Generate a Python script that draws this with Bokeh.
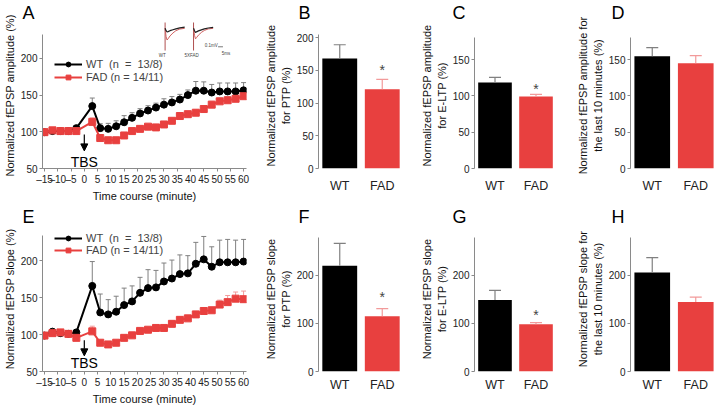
from bokeh.plotting import figure
from bokeh.models import (Range1d, FactorRange, Whisker, TeeHead, ColumnDataSource,
                          Legend, LegendItem, Label, Arrow, NormalHead, FixedTicker)
from bokeh.layouts import row, column
from bokeh.embed import file_html
from bokeh.resources import INLINE
from bokeh.core.properties import value

FONT = "Liberation Sans"
BLACK = "#000000"
RED = "#E8403F"
AXIS = "#8a8a8a"
WT_ERR = "#808080"
FAD_ERR = "#F29A9A"

# ---------------- data ----------------
time_min = [-15, -12, -9, -6, -3, 3, 6, 9, 12, 15, 18, 21, 24, 27, 30, 33, 36, 39, 42, 45, 48, 51, 54, 57, 60]

amp_wt = [99.5, 101, 101, 101, 105, 135, 105, 104, 107.5, 113, 119, 125, 129, 133, 137, 140, 144, 150, 156, 156, 153.5, 155, 155, 155, 156.5]
amp_wt_err = [2, 2, 2, 2, 3, 11, 6, 7.5, 7.5, 9, 7, 6.5, 6.5, 6, 8, 8, 7, 7, 12.5, 12, 11, 11.5, 11.5, 11.5, 10.5]
amp_fad = [99.5, 102, 101, 101, 101, 113.5, 91.5, 88.5, 88.5, 95, 101, 104, 107, 106, 110, 115, 121.5, 124, 126, 131, 137, 141.5, 143, 145, 148.5]
amp_fad_err = [2, 2, 2, 2, 2, 5.5, 3, 2.5, 2.5, 3, 3, 3, 3, 3, 3, 3.5, 4, 4, 4, 4, 4.5, 4.5, 4.5, 5, 5]

slope_wt = [98.7, 104, 102, 101, 103, 166, 130, 127.4, 131, 140, 145, 156.6, 163, 164, 172, 176, 182, 183, 196, 202, 192, 198, 198, 198, 199]
slope_wt_err = [3, 2, 3, 3, 3, 33, 25, 20, 21, 23, 21, 21, 25, 23, 25, 25, 26, 24, 29, 31, 27, 30, 31, 30, 30]
slope_fad = [98.7, 102, 103, 101, 95.6, 104.4, 89, 86.7, 89, 95.6, 99, 105, 106.6, 109, 109, 114.6, 120, 122, 127.4, 132, 133, 140.7, 144, 148.7, 148]
slope_fad_err = [3, 3, 3, 3, 3, 7, 3, 2.5, 2.5, 3, 3, 3, 3, 3, 3, 3.5, 4, 4, 4, 4, 4, 6, 9, 9, 11]

x_ticks = [-15, -10, -5, 0, 5, 10, 15, 20, 25, 30, 35, 40, 45, 50, 55, 60]
x_tick_labels = ["–15", "–10", "–5", "0", "5", "10", "15", "20", "25", "30", "35", "40", "45", "50", "55", "60"]

groups = ["WT", "FAD"]
ptp_amp = [168, 121]
ptp_amp_err = [21, 15]
eltp_amp = [118.5, 99]
eltp_amp_err = [7, 3]
last10_amp = [154.5, 145]
last10_amp_err = [12, 10.5]
ptp_slope = [220, 115]
ptp_slope_err = [47, 16]
eltp_slope = [149, 98.5]
eltp_slope_err = [20, 3.5]
last10_slope = [206, 145]
last10_slope_err = [31, 10]

legend_wt = "WT  (n  =  13/8)"
legend_fad = "FAD (n = 14/11)"

# representative traces (inset of panel A), ms / mV
inset_ms = [0, 1, 2, 3, 5, 8, 11, 15, 20]
inset_wt_pre = [0, -0.02, -0.03, -0.028, -0.02, -0.012, -0.004, 0.004, 0.01]
inset_wt_post = [0, -0.07, -0.1, -0.09, -0.065, -0.04, -0.02, -0.006, 0.0]
inset_fad_pre = [0, -0.02, -0.035, -0.03, -0.022, -0.013, -0.005, 0.003, 0.008]
inset_fad_post = [0, -0.06, -0.09, -0.08, -0.058, -0.035, -0.018, -0.005, 0.0]
inset_artifact_mv = [0.14, -0.19]
inset_fad_offset_ms = 29


def style(p, letter, letter_offset):
    p.title.text = letter
    p.title.text_font = FONT
    p.title.text_font_size = "18px"
    p.title.text_font_style = "normal"
    p.title.text_color = "#000000"
    p.title.align = "left"
    p.title.offset = letter_offset
    p.title.standoff = 0
    p.xgrid.grid_line_color = None
    p.ygrid.grid_line_color = None
    p.outline_line_color = None
    for ax in p.axis:
        ax.axis_line_color = AXIS
        ax.major_tick_line_color = AXIS
        ax.minor_tick_line_color = None
        ax.major_tick_out = 3
        ax.major_tick_in = 0
        ax.major_label_text_font = FONT
        ax.major_label_text_font_size = "10px"
        ax.major_label_text_color = "#222222"
        ax.axis_label_text_font = FONT
        ax.axis_label_text_font_size = "11px"
        ax.axis_label_text_font_style = "normal"
        ax.axis_label_text_color = "#111111"
        ax.major_label_standoff = 2
        ax.axis_label_standoff = 2


def time_course(letter, ylabel, wt, wt_err, fad, fad_err, height, top, bottom, yend, ybound,
                leg_y, leg_spacing, arrow_y, tbs_y, inset=False):
    p = figure(width=262, height=height, x_range=Range1d(-15.75, 61.1), y_range=Range1d(50, yend),
               output_backend="svg", toolbar_location=None,
               min_border_left=38, min_border_right=16, min_border_top=top, min_border_bottom=bottom)
    style(p, letter, -20)
    src_wt = ColumnDataSource(dict(t=time_min, y=wt, up=[a + b for a, b in zip(wt, wt_err)]))
    src_fad = ColumnDataSource(dict(t=time_min, y=fad, up=[a + b for a, b in zip(fad, fad_err)]))
    p.add_layout(Whisker(source=src_wt, base="t", lower="y", upper="up", line_color=WT_ERR,
                         line_width=1, lower_head=None,
                         upper_head=TeeHead(size=5, line_color=WT_ERR, line_width=1)))
    p.add_layout(Whisker(source=src_fad, base="t", lower="y", upper="up", line_color=FAD_ERR,
                         line_width=1, lower_head=None,
                         upper_head=TeeHead(size=5, line_color=FAD_ERR, line_width=1)))
    l1 = p.line("t", "y", source=src_wt, line_color=BLACK, line_width=2)
    m1 = p.scatter("t", "y", source=src_wt, marker="circle", size=7, color=BLACK)
    l2 = p.line("t", "y", source=src_fad, line_color=RED, line_width=2)
    m2 = p.scatter("t", "y", source=src_fad, marker="square", size=7, color=RED)

    p.xaxis.ticker = FixedTicker(ticks=x_ticks)
    p.xaxis.major_label_overrides = {t: s for t, s in zip(x_ticks, x_tick_labels)}
    p.xaxis.axis_label = "Time course (minute)"
    p.yaxis.ticker = FixedTicker(ticks=[50, 100, 150, 200])
    p.yaxis.bounds = (50, ybound)
    p.yaxis.axis_label = ylabel

    leg = Legend(items=[LegendItem(label=legend_wt, renderers=[l1, m1]),
                        LegendItem(label=legend_fad, renderers=[l2, m2])],
                 location=(12, leg_y), orientation="vertical",
                 label_text_font=FONT, label_text_font_size="11px",
                 glyph_width=28, glyph_height=12, label_height=12, label_standoff=4,
                 spacing=leg_spacing, padding=0, margin=0,
                 border_line_color=None, background_fill_alpha=0)
    p.add_layout(leg)

    p.add_layout(Arrow(end=NormalHead(size=7, fill_color=BLACK, line_color=BLACK),
                       x_start=0, y_start=arrow_y[0], x_end=0, y_end=arrow_y[1],
                       line_color=BLACK, line_width=1.2))
    p.add_layout(Label(x=0, y=tbs_y, text="TBS", text_font=FONT, text_font_size="14px",
                       text_align="center", text_baseline="middle", text_color="#000000"))

    if inset:
        # frame: page x 38..246 ; 1 ms = 1 px, 120 px per mV, baseline 6 px below frame top
        frame_h = height - top - bottom
        p.extra_x_ranges = {"ix": Range1d(-125, 83)}
        p.extra_y_ranges = {"iy": Range1d(6 / 120 - frame_h / 120, 6 / 120)}
        for off, pre, post in [(0, inset_wt_pre, inset_wt_post),
                               (inset_fad_offset_ms, inset_fad_pre, inset_fad_post)]:
            tt = [t + off for t in inset_ms]
            p.line([off, off], inset_artifact_mv, x_range_name="ix", y_range_name="iy",
                   line_color="#B05050", line_width=1)
            p.line(tt, post, x_range_name="ix", y_range_name="iy", line_color="#D06060", line_width=1)
            p.line(tt, pre, x_range_name="ix", y_range_name="iy", line_color="#202020", line_width=1.2)
        p.line([54, 59], [-0.158, -0.158], x_range_name="ix", y_range_name="iy",
               line_color="#555555", line_width=0.8)
        p.text(x=[47, 62, -3, 27], y=[-0.15, -0.217, -0.233, -0.233],
               text=["0.1mV", "5ms", "WT", "5XFAD"], x_range_name="ix", y_range_name="iy",
               text_font=value(FONT), text_font_size="4.5px", text_color="#444444",
               text_align="center", text_baseline="middle")
    return p


def bar_panel(letter, letter_offset, ylabel, vals, errs, width, height, left, right, top, bottom,
              yend, ybound, ticks, label_standoff, star_y=None):
    p = figure(width=width, height=height, x_range=FactorRange(factors=groups),
               y_range=Range1d(0, yend), output_backend="svg", toolbar_location=None,
               min_border_left=left, min_border_right=right, min_border_top=top,
               min_border_bottom=bottom)
    style(p, letter, letter_offset)
    p.vbar(x=groups, top=vals, width=0.82, color=[BLACK, RED], line_color=None)
    for g, v, e, c in zip(groups, vals, errs, [WT_ERR, FAD_ERR]):
        src = ColumnDataSource(dict(x=[g], lo=[v], up=[v + e]))
        p.add_layout(Whisker(source=src, base="x", lower="lo", upper="up", line_color=c,
                             line_width=1.2, lower_head=None, level="glyph",
                             upper_head=TeeHead(size=12, line_color=c, line_width=1.2)))
    if star_y is not None:
        p.text(x=["FAD"], y=[star_y], text=["*"], text_font=value(FONT), text_font_size="14px",
               text_color="#444444", text_align="center", text_baseline="middle")
    p.yaxis.ticker = FixedTicker(ticks=ticks)
    p.yaxis.bounds = (0, ybound)
    p.yaxis.axis_label = ylabel
    p.xaxis.axis_line_color = None
    p.xaxis.major_tick_line_color = None
    p.xaxis.major_tick_out = 0
    p.xaxis.major_label_text_font_size = "12.5px"
    p.xaxis.major_label_standoff = label_standoff
    return p


TOP_H = 204
BOT_H = 203

# top row: all frames span page y 22..172 ; bottom row: all frames span page y 226..374
pA = time_course("A", "Normalized fEPSP amplitude (%)", amp_wt, amp_wt_err, amp_fad, amp_fad_err,
                 TOP_H, 22, 32, 248.9, 233, 85.5, 1, (96.4, 74), 59.3, inset=True)
pB = bar_panel("B", -20, "Normalized fEPSP amplitude\nfor PTP (%)", ptp_amp, ptp_amp_err,
               156, TOP_H, 55, 15, 22, 32, 223, 205, [0, 50, 100, 150, 200], 10, star_y=150)
pC = bar_panel("C", -22, "Normalized fEPSP amplitude\nfor E-LTP (%)", eltp_amp, eltp_amp_err,
               156, TOP_H, 52, 18, 22, 32, 201, 180, [0, 50, 100, 150], 10, star_y=110)
pD = bar_panel("D", -19, "Normalized fEPSP amplitude for\nthe last 10 minutes (%)", last10_amp, last10_amp_err,
               144, TOP_H, 55, 1, 22, 32, 201, 180, [0, 50, 100, 150], 10)

pE = time_course("E", "Normalized fEPSP slope (%)", slope_wt, slope_wt_err, slope_fad, slope_fad_err,
                 BOT_H, 22, 33, 246.5, 234, 115.5, 0, (92.5, 71.2), 62)
pF = bar_panel("F", -20, "Normalized fEPSP slope\nfor PTP (%)", ptp_slope, ptp_slope_err,
               156, BOT_H, 55, 15, 22, 33, 302, 279, [0, 100, 200], 6, star_y=155)
pG = bar_panel("G", -22, "Normalized fEPSP slope\nfor E-LTP (%)", eltp_slope, eltp_slope_err,
               156, BOT_H, 52, 18, 22, 33, 302, 279, [0, 100, 200], 6, star_y=118.5)
pH = bar_panel("H", -19, "Normalized fEPSP slope for\nthe last 10 minutes (%)", last10_slope, last10_slope_err,
               144, BOT_H, 55, 1, 22, 33, 302, 279, [0, 100, 200], 6)

layout = column(row(pA, pB, pC, pD, spacing=0),
                row(pE, pF, pG, pH, spacing=0), spacing=0)

with open("out.html", "w") as f:
    f.write(file_html(layout, INLINE))
